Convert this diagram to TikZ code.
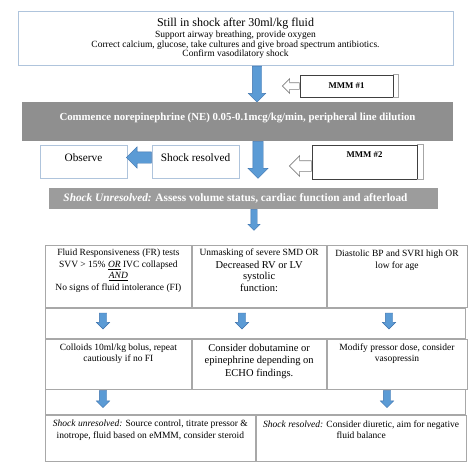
\documentclass[tikz,border=0pt]{standalone}
\usepackage{fontspec}
\setmainfont{Liberation Serif}
\usetikzlibrary{shapes.arrows,positioning}
\definecolor{boxblue}{HTML}{AFC4DC}
\definecolor{bargray}{HTML}{8F8F8F}
\definecolor{bargraytwo}{HTML}{9C9C9C}
\definecolor{arrowblue}{HTML}{5B9BD5}
\definecolor{arrowedge}{HTML}{3E72AC}
\definecolor{tablegray}{HTML}{A8A8A8}

\begin{document}
\begin{tikzpicture}[x=1pt,y=-1pt,
  info/.style={draw=boxblue,line width=0.8pt,fill=white,align=center,inner sep=0pt},
  bar/.style={fill=#1,text=white,inner sep=0pt},
  down/.style={single arrow,shape border rotate=270,anchor=tail,fill=arrowblue,draw=arrowedge,line width=0.4pt},
  leftarr/.style={single arrow,shape border rotate=180,anchor=tail,fill=arrowblue,draw=arrowedge,line width=0.4pt},
  hollow/.style={single arrow,shape border rotate=180,anchor=tail,fill=white,draw=gray,line width=0.6pt},
  mmm/.style={draw=black!75,line width=0.7pt,fill=white,inner sep=0pt,font=\fontsize{8.8}{10}\selectfont\bfseries},
  shade/.style={draw=gray!70,line width=0.6pt},
  cell/.style={draw=tablegray,line width=0.8pt,anchor=north west,inner sep=0pt},
  celltext/.style={align=center,inner sep=0pt,font=\fontsize{9.5}{11.5}\selectfont},
  tabarr/.style={down,minimum height=16pt,inner sep=3.5pt,single arrow head extend=3pt}]
  \useasboundingbox (0,0) rectangle (474,472);

  \node[info,minimum width=435pt,minimum height=54pt,font=\fontsize{9.5}{9.8}\selectfont] (still) at (235.5,38.5)
    {{\fontsize{12}{12}\selectfont Still in shock after 30ml/kg fluid}\\[1pt]
     Support airway breathing, provide oxygen\\
     Correct calcium, glucose, take cultures and give broad spectrum antibiotics.\\
     Confirm vasodilatory shock};
  \node[down,minimum height=36pt,inner sep=4.5pt,single arrow head extend=4pt] (a_1) at ([xshift=21.5pt]still.south) {};

  \node[mmm,minimum width=93pt,minimum height=22pt] (mmm_1) at (346.5,86) {MMM \#1};
  \draw[shade] (mmm_1.north east) -- ++(5pt,0pt) |- (mmm_1.south east);
  \node[hollow,minimum height=17pt,inner sep=3pt,single arrow head extend=4pt] (h_1) at (mmm_1.west) {};

  \node[bar=bargray,minimum width=431pt,minimum height=39pt,text height=8pt,text depth=11pt,
        font=\fontsize{10.8}{13}\selectfont\bfseries] (ne) at (237.5,121.5)
    {Commence norepinephrine (NE) 0.05-0.1mcg/kg/min, peripheral line dilution};
  \node[down,minimum height=37pt,inner sep=5pt,single arrow head extend=5pt] (a_2) at ([xshift=20.5pt]ne.south) {};

  \node[info,minimum width=87pt,minimum height=33pt,text height=8pt,text depth=9pt,
        font=\fontsize{11.3}{13}\selectfont] (observe) at (83.5,161.5) {Observe};
  \node[info,minimum width=87pt,minimum height=33pt,text height=8pt,text depth=9pt,
        font=\fontsize{11.3}{13}\selectfont] (resolved) at (195.5,161.5) {Shock resolved};
  \node[leftarr,minimum height=25pt,inner sep=5.5pt,single arrow head extend=5pt] (a_obs) at ([yshift=4pt]resolved.west) {};

  \node[mmm,minimum width=105pt,minimum height=34pt,text height=6pt,text depth=15pt] (mmm_2) at (364.5,162) {MMM \#2};
  \draw[shade] (mmm_2.north east) -- ++(6pt,0pt) |- (mmm_2.south east);
  \node[hollow,minimum height=22pt,inner sep=5pt,single arrow head extend=5pt] (h_2) at ([yshift=-4pt]mmm_2.west) {};

  \node[bar=bargraytwo,minimum width=389pt,minimum height=21pt,
        font=\fontsize{11.3}{13}\selectfont\bfseries] (unres) at (243.5,198.5)
    {\textit{Shock Unresolved:} Assess volume status, cardiac function and afterload\hspace*{16pt}};
  \node[down,minimum height=21pt,inner sep=3pt,single arrow head extend=3pt] (a_3) at ([xshift=10.5pt]unres.south) {};

  \node[cell,minimum width=146pt,minimum height=62pt] (c_11) at (45,245) {};
  \node[cell,minimum width=134pt,minimum height=62pt] (c_12) at (c_11.north east) {};
  \node[cell,minimum width=140pt,minimum height=62pt] (c_13) at (c_12.north east) {};
  \node[cell,minimum width=420pt,minimum height=30pt] (r_2) at (c_11.south west) {};
  \node[cell,minimum width=146pt,minimum height=50pt] (c_31) at (r_2.south west) {};
  \node[cell,minimum width=134pt,minimum height=50pt] (c_32) at (c_31.north east) {};
  \node[cell,minimum width=140pt,minimum height=50pt] (c_33) at (c_32.north east) {};
  \node[cell,minimum width=420pt,minimum height=25pt] (r_4) at (c_31.south west) {};
  \node[cell,minimum width=210pt,minimum height=46pt] (c_51) at (r_4.south west) {};
  \node[cell,minimum width=210pt,minimum height=46pt] (c_52) at (c_51.north east) {};

  \node[celltext,below=4pt of c_11.north] (t_11)
    {Fluid Responsiveness (FR) tests\\ SVV > 15\% \underline{\textit{OR}} IVC collapsed\\
     \underline{\textit{AND}}\\ No signs of fluid intolerance (FI)};
  \node[celltext,below=4pt of c_12.north] (t_12)
    {Unmasking of severe SMD OR\\[1pt] {\fontsize{10.5}{12.5}\selectfont Decreased RV or LV}\\
     {\fontsize{10.5}{12.5}\selectfont systolic}\\ {\fontsize{10.5}{12.5}\selectfont function:}};
  \node[celltext,below=5pt of c_13.north] (t_13) {Diastolic BP and SVRI high OR\\ low for age};
  \node[celltext,below=5pt of c_31.north] (t_31) {Colloids 10ml/kg bolus, repeat\\ cautiously if no FI};
  \node[celltext,below=5pt of c_32.north,font=\fontsize{10.5}{12.5}\selectfont] (t_32)
    {Consider dobutamine or\\ epinephrine depending on\\ ECHO findings.};
  \node[celltext,below=5pt of c_33.north] (t_33) {Modify pressor dose, consider\\ vasopressin};
  \node[celltext,below=5pt of c_51.north] (t_51)
    {\textit{Shock unresolved:} Source control, titrate pressor \&\\ inotrope, fluid based on eMMM, consider steroid};
  \node[celltext,below=5pt of c_52.north] (t_52)
    {\textit{Shock resolved:} Consider diuretic, aim for negative\\ fluid balance};

  \node[tabarr] (b_1) at ([shift={(58pt,-5pt)}]r_2.north west) {};
  \node[tabarr] (b_2) at ([shift={(197pt,-5pt)}]r_2.north west) {};
  \node[tabarr] (b_3) at ([shift={(344pt,-5pt)}]r_2.north west) {};
  \node[tabarr,minimum height=17pt] (b_4) at ([shift={(58pt,-1pt)}]r_4.north west) {};
  \node[tabarr,minimum height=17pt] (b_5) at ([shift={(342pt,-1pt)}]r_4.north west) {};
\end{tikzpicture}
\end{document}
